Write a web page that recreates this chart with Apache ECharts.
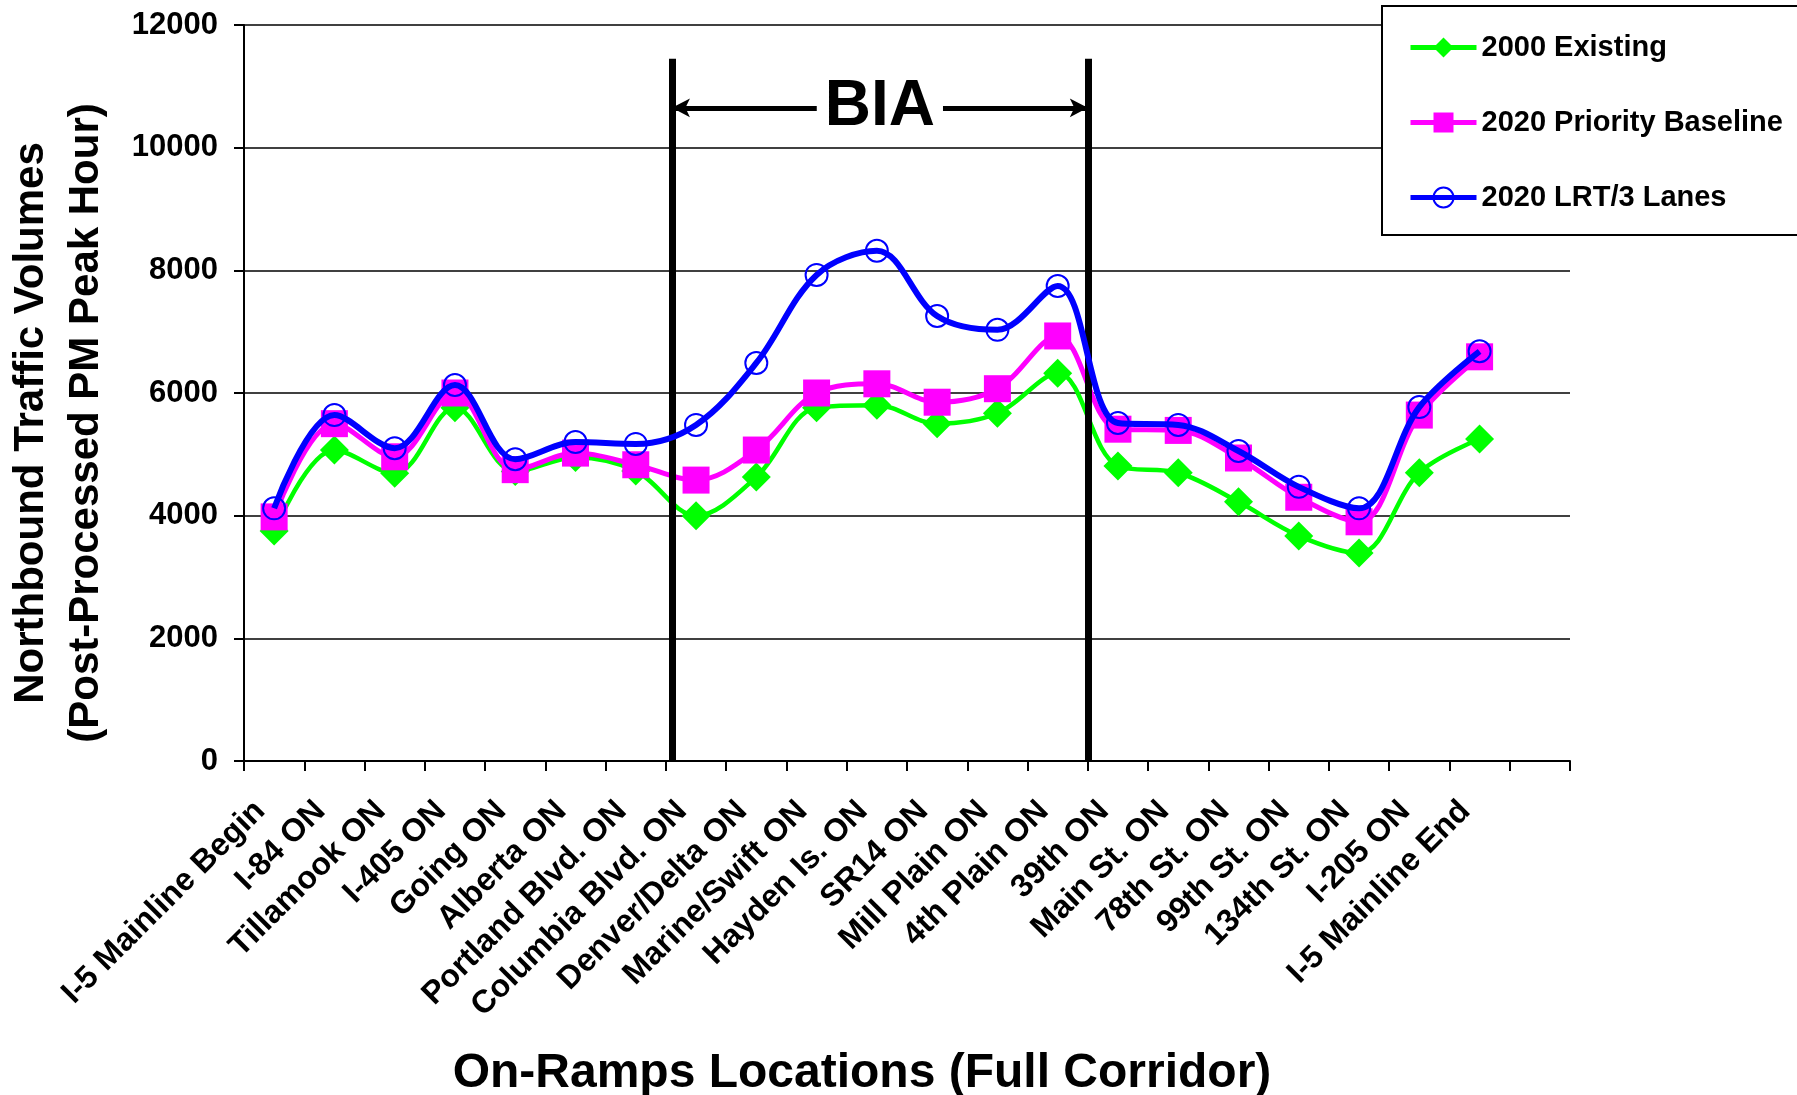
<!DOCTYPE html>
<html><head><meta charset="utf-8">
<script src="https://cdn.jsdelivr.net/npm/echarts@6/dist/echarts.min.js"></script>
<style>html,body{margin:0;padding:0;background:#fff}#c{width:1797px;height:1095px}</style>
</head><body><div id="c"></div>
<script>
const categories = ['I-5 Mainline Begin','I-84 ON','Tillamook ON','I-405 ON','Going ON','Alberta ON','Portland Blvd. ON','Columbia Blvd. ON','Denver/Delta ON','Marine/Swift ON','Hayden Is. ON','SR14 ON','Mill Plain ON','4th Plain ON','39th ON','Main St. ON','78th St. ON','99th St. ON','134th St. ON','I-205 ON','I-5 Mainline End',''];
const existing2000 = [3750,5070,4690,5760,4720,4950,4730,4000,4630,5760,5800,5500,5670,6320,4810,4700,4225,3670,3390,4700,5250];
const priority2020 = [3980,5500,4960,6000,4750,5020,4830,4580,5070,6000,6150,5850,6070,6930,5410,5390,4940,4300,3900,5640,6590];
const lrt2020 = [4120,5640,5100,6130,4920,5200,5170,5480,6490,7925,8320,7255,7030,7745,5510,5480,5055,4470,4120,5770,6680];
const seriesNames = ['2000 Existing','2020 Priority Baseline','2020 LRT/3 Lanes'];
const yMin = 0, yMax = 12000, yStep = 2000;
const biaBounds = [7.1, 14.0];   // positions in category units (boundaries)
const biaTop = 11450;
const biaArrowY = 10650;
const biaLabel = 'BIA';
const xTitle = 'On-Ramps Locations (Full Corridor)';
const yTitle = 'Northbound Traffic Volumes\n(Post-Processed PM Peak Hour)';

const FONT = '"Liberation Sans", Arial, sans-serif';
const chart = echarts.init(document.getElementById('c'), null, {renderer: 'canvas'});
const option = {
  animation: false,
  backgroundColor: '#fff',
  textStyle: {fontFamily: FONT, color: '#000'},
  grid: {left: 244, right: 227, top: 25, bottom: 334, containLabel: false, outerBoundsMode: 'none'},
  legend: {
    data: seriesNames, orient: 'vertical', left: 1382, top: 6,
    padding: [27, 60, 23, 26], itemWidth: 66, itemHeight: 25, itemGap: 46,
    borderColor: '#000', borderWidth: 2, backgroundColor: '#fff',
    lineStyle: {width: 5},
    textStyle: {fontFamily: FONT, fontSize: 29, fontWeight: 'bold', color: '#000'}
  },
  xAxis: [{
    type: 'category', data: categories, boundaryGap: true,
    axisLine: {show: true, lineStyle: {color: '#000', width: 2}},
    axisTick: {show: true, interval: 0, length: 10, lineStyle: {color: '#000', width: 2}},
    axisLabel: {interval: 0, rotate: 45, margin: 31, fontFamily: FONT, fontSize: 32, fontWeight: 'bold', color: '#000',
                hideOverlap: false, padding: [0, 20, 0, 0]},
    splitLine: {show: false},
    name: xTitle, nameLocation: 'middle', nameGap: 289,
    nameTextStyle: {fontFamily: FONT, fontSize: 48, fontWeight: 'bold', color: '#000', padding: [0, 90, 0, 0]}
  }, {
    type: 'value', min: 0, max: categories.length, show: false
  }],
  yAxis: {
    type: 'value', min: yMin, max: yMax, interval: yStep,
    axisLine: {show: true, lineStyle: {color: '#000', width: 2}},
    axisTick: {show: true, length: 10, lineStyle: {color: '#000', width: 2}},
    axisLabel: {margin: 26, fontFamily: FONT, fontSize: 31, fontWeight: 'bold', color: '#000',
                formatter: v => String(v)},
    splitLine: {show: true, lineStyle: {color: '#000', width: 1.5}},
    name: yTitle, nameLocation: 'middle', nameGap: 130, nameRotate: 90,
    nameTextStyle: {fontFamily: FONT, fontSize: 42, fontWeight: 'bold', color: '#000', lineHeight: 55, padding: [0, 60, 0, 0]}
  },
  series: [
    {
      type: 'line', xAxisIndex: 1, data: [], silent: true, z: 1,
      markLine: {
        silent: true, animation: false, symbol: ['none', 'none'],
        lineStyle: {color: '#000', width: 7, type: 'solid'},
        label: {show: false}, emphasis: {disabled: true},
        data: biaBounds.map(b => [{coord: [b, yMin]}, {coord: [b, biaTop]}])
      }
    },
    {
      type: 'line', xAxisIndex: 1, data: [], silent: true, z: 1,
      markLine: {
        silent: true, animation: false, symbol: ['arrow', 'arrow'], symbolSize: [14, 18],
        lineStyle: {color: '#000', width: 5, type: 'solid'},
        emphasis: {disabled: true},
        label: {show: false},
        data: [[{coord: [biaBounds[0], biaArrowY]}, {coord: [biaBounds[1], biaArrowY]}]]
      },
      markPoint: {
        silent: true, animation: false, symbol: 'rect', symbolSize: 1,
        itemStyle: {color: '#fff'},
        label: {show: true, position: 'inside', formatter: biaLabel, fontFamily: FONT, fontSize: 64, fontWeight: 'bold',
                color: '#000', backgroundColor: '#fff', padding: [0, 8]},
        data: [{coord: [(biaBounds[0] + biaBounds[1]) / 2, biaArrowY]}]
      }
    },
    {
      name: seriesNames[0], type: 'line', data: existing2000, smooth: 0.35, z: 3,
      symbol: 'diamond', symbolSize: 29,
      lineStyle: {color: '#00FF00', width: 4.5}, itemStyle: {color: '#00FF00'}
    },
    {
      name: seriesNames[1], type: 'line', data: priority2020, smooth: 0.35, z: 4,
      symbol: 'rect', symbolSize: 27,
      lineStyle: {color: '#FF00FF', width: 5}, itemStyle: {color: '#FF00FF'}
    },
    {
      name: seriesNames[2], type: 'line', data: lrt2020, smooth: 0.35, z: 5,
      symbol: 'circle', symbolSize: 22,
      lineStyle: {color: '#0000FF', width: 6},
      itemStyle: {color: 'rgba(255,255,255,0)', borderColor: '#0000FF', borderWidth: 2}
    }
  ]
};
chart.setOption(option);
</script>
</body></html>
